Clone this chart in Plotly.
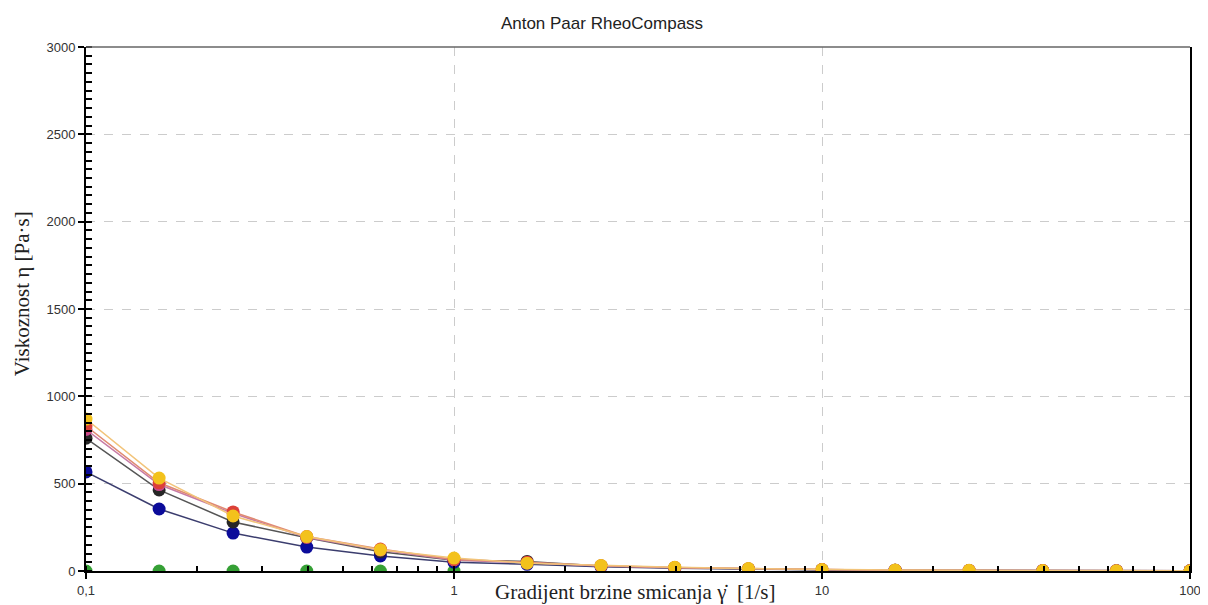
import plotly.graph_objects as go

# Shear rate points (1/s)
shear_rate = [0.1, 0.158, 0.251, 0.398, 0.631, 1.0, 1.58, 2.51, 3.98, 6.31,
              10.0, 15.8, 25.1, 39.8, 63.1, 100.0]

# Viscosity series (Pa·s)
visc_yellow = [870, 532, 315, 197, 122, 74, 45, 32, 22, 14, 9, 6, 4, 3, 2, 1.5]
visc_red = [830, 505, 338, 197, 126, 66, 50, 30, 20, 13, 8, 5, 3.5, 2.5, 1.8, 1.2]
visc_pink = [810, 495, 330, 192, 120, 63, 47, 28, 19, 12, 8, 5, 3.4, 2.4, 1.7, 1.1]
visc_black = [760, 464, 281, 190, 110, 62, 55, 28, 18, 12, 7, 5, 3, 2, 1.5, 1]
visc_blue = [567, 355, 217, 137, 86, 50, 38, 24, 16, 10, 7, 4.5, 3, 2, 1.4, 1]
green_rate = [0.1, 0.158, 0.251, 0.398, 0.631, 1.0]
visc_green = [0, 0, 0, 0, 0, 0]

x_tickvals = [0.1, 1, 10, 100]
x_ticktext = ["0,1", "1", "10", "100"]
y_tickvals = [0, 500, 1000, 1500, 2000, 2500, 3000]

fig = go.Figure()

fig.add_trace(go.Scatter(x=green_rate, y=visc_green, mode="markers",
                         marker=dict(size=13, color="#35a035"), name="green"))

series = [
    (visc_blue, "#0b0b9a", "#3b3d6e"),
    (visc_black, "#262626", "#555555"),
    (visc_pink, "#c8488c", "#c77aa5"),
    (visc_red, "#dc4038", "#e08a72"),
    (visc_yellow, "#f3c21c", "#f2c47a"),
]
for vals, mcol, lcol in series:
    fig.add_trace(go.Scatter(x=shear_rate, y=vals, mode="lines+markers",
                             line=dict(color=lcol, width=1.5),
                             marker=dict(size=13, color=mcol)))

# The page body has an 8px margin, so the figure is sized/shifted to compensate.
fig.update_layout(
    width=1200, height=597,
    margin=dict(l=78, r=18, t=39, b=34, autoexpand=False),
    paper_bgcolor="white", plot_bgcolor="white",
    showlegend=False,
    font=dict(family="Liberation Sans, Arial", color="#333333", size=13),
    title=dict(text="Anton Paar RheoCompass", x=0.495, xanchor="center",
               y=0.975, yanchor="middle",
               font=dict(family="Liberation Sans, Arial", size=17, color="#222222")),
)

fig.update_xaxes(
    type="log", range=[-1, 2],
    tickvals=x_tickvals, ticktext=x_ticktext,
    ticks="outside", ticklen=6, tickwidth=2, tickcolor="black",
    showline=True, linecolor="black", linewidth=2,
    showgrid=True, gridcolor="#cccccc", griddash="dash", gridwidth=1,
    zeroline=False,
    minor=dict(ticks="inside", ticklen=5, tickwidth=2, tickcolor="black",
               dtick="D1", showgrid=False),
    tickfont=dict(size=13, color="#333333"),
)

fig.update_yaxes(
    range=[0, 3000],
    tickvals=y_tickvals,
    ticks="outside", ticklen=6, tickwidth=2, tickcolor="black",
    showline=True, linecolor="black", linewidth=2, mirror=True,
    showgrid=True, gridcolor="#cccccc", griddash="dash", gridwidth=1,
    zeroline=False,
    minor=dict(ticks="inside", ticklen=6, tickwidth=2, tickcolor="black",
               dtick=50, showgrid=False),
    tickfont=dict(size=13, color="#333333"),
)

# top border line (gray)
fig.add_shape(type="line", xref="paper", yref="paper", x0=0, x1=1, y0=1, y1=1,
              line=dict(color="#666666", width=1.5))

# axis titles
fig.add_annotation(text="Gradijent brzine smicanja γ̇  [1/s]", xref="paper", yref="paper",
                   x=0.497, y=-0.014, xanchor="center", yanchor="top", showarrow=False,
                   font=dict(family="Liberation Serif, Times New Roman", size=21, color="#222222"))
fig.add_annotation(text="Viskoznost η [Pa·s]", xref="paper", yref="paper",
                   x=-0.058, y=0.53, xanchor="center", yanchor="middle", textangle=-90,
                   showarrow=False,
                   font=dict(family="Liberation Serif, Times New Roman", size=21, color="#222222"))

fig.write_html("out.html")
